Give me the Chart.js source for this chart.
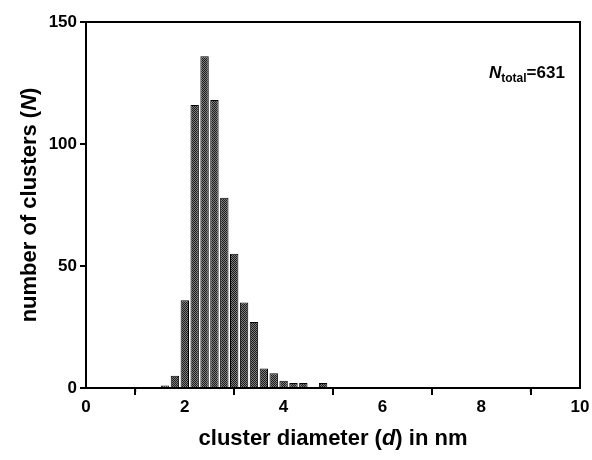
<!DOCTYPE html>
<html>
<head>
<meta charset="utf-8">
<script src="https://cdn.jsdelivr.net/npm/chart.js@4/dist/chart.umd.min.js"></script>
<style>
  html, body { margin: 0; padding: 0; background: #fff; }
  canvas { display: block; }
</style>
</head>
<body>
<canvas id="hist" width="592" height="460"></canvas>
<script>
// bin centres (nm) and counts
const binCenters = [1.6, 1.8, 2.0, 2.2, 2.4, 2.6, 2.8, 3.0, 3.2, 3.4, 3.6, 3.8, 4.0, 4.2, 4.4, 4.6, 4.8];
const counts     = [1,   5,   36,  116, 136, 118, 78,  55,  35,  27,  8,   6,   3,   2,   2,   0,   2];

const xTicks = [0, 2, 4, 6, 8, 10];
const xMinorTicks = [1, 3, 5, 7, 9];
const yTicks = [0, 50, 100, 150];

const FONT = "'Liberation Sans', Arial, sans-serif";

// speckled grey fill like the scanned bars
function makePattern() {
    const c = document.createElement("canvas");
    c.width = 2; c.height = 2;
    const g = c.getContext("2d");
    g.fillStyle = "#7e7e7e"; g.fillRect(0, 0, 2, 2);
    g.fillStyle = "#1c1c1c"; g.fillRect(0, 0, 1, 1); g.fillRect(1, 1, 1, 1);
    return g.createPattern(c, "repeat");
}

// draws text made of pieces with different fonts (italic letters, subscripts)
function drawPieces(ctx, pieces, x, y, align) {
    let total = 0;
    pieces.forEach(p => { ctx.font = p.font; p.w = ctx.measureText(p.text).width; total += p.w; });
    let cx = align == "center" ? x - total / 2 : x;
    ctx.textBaseline = "alphabetic";
    ctx.textAlign = "left";
    pieces.forEach(p => {
        ctx.font = p.font;
        ctx.fillText(p.text, cx, y + (p.dy || 0));
        cx += p.w;
    });
}

const framePlugin = {
    id: "frame",
    afterDraw(chart) {
        const ctx = chart.ctx;
        const a = chart.chartArea;
        const xs = chart.scales.x;
        ctx.save();
        ctx.strokeStyle = "#000";
        ctx.fillStyle = "#000";
        ctx.lineWidth = 2;
        ctx.strokeRect(a.left, a.top, a.right - a.left, a.bottom - a.top);

        // minor ticks on x
        ctx.lineWidth = 1.5;
        xMinorTicks.forEach(v => {
            const px = xs.getPixelForValue(v);
            ctx.beginPath();
            ctx.moveTo(px, a.bottom);
            ctx.lineTo(px, a.bottom + 4);
            ctx.stroke();
        });

        // x axis title
        const b = "bold 22px " + FONT;
        const bi = "italic bold 22px " + FONT;
        drawPieces(ctx, [
            { text: "cluster diameter (", font: b },
            { text: "d", font: bi },
            { text: ") in nm", font: b }
        ], (a.left + a.right) / 2, 445, "center");

        // y axis title
        ctx.save();
        ctx.translate(36, (a.top + a.bottom) / 2);
        ctx.rotate(-Math.PI / 2);
        drawPieces(ctx, [
            { text: "number of clusters (", font: b },
            { text: "N", font: bi },
            { text: ")", font: b }
        ], 0, 0, "center");
        ctx.restore();

        // N_total annotation
        drawPieces(ctx, [
            { text: "N", font: "italic bold 17px " + FONT },
            { text: "total", font: "bold 12px " + FONT, dy: 4 },
            { text: "=631", font: "bold 17px " + FONT }
        ], 489, 78, "left");
        ctx.restore();
    }
};

const tickFont = { family: FONT, size: 17, weight: "bold" };

new Chart(document.getElementById("hist").getContext("2d"), {
    type: "bar",
    data: {
        datasets: [{
            data: binCenters.map((x, i) => ({ x: x, y: counts[i] })),
            backgroundColor: makePattern(),
            borderColor: "#000",
            borderWidth: 1,
            barPercentage: 0.85,
            categoryPercentage: 1
        }]
    },
    options: {
        responsive: false,
        animation: false,
        devicePixelRatio: 1,
        layout: { padding: { top: 22, right: 12, left: 0, bottom: 0 } },
        plugins: { legend: { display: false }, tooltip: { enabled: false } },
        scales: {
            x: {
                type: "linear",
                min: 0, max: 10,
                offset: false,
                afterFit(s) { s.height = 72; },
                afterBuildTicks(s) { s.ticks = xTicks.map(v => ({ value: v })); },
                ticks: { font: tickFont, color: "#000", padding: 2, maxRotation: 0 },
                grid: { drawOnChartArea: false, drawTicks: true, tickLength: 7, color: "#000", lineWidth: 2 },
                border: { display: true, color: "#000", width: 2 }
            },
            y: {
                min: 0, max: 150,
                afterFit(s) { s.width = 86; },
                afterBuildTicks(s) { s.ticks = yTicks.map(v => ({ value: v })); },
                ticks: { font: tickFont, color: "#000", padding: 3 },
                grid: { drawOnChartArea: false, drawTicks: true, tickLength: 6, color: "#000", lineWidth: 2 },
                border: { display: true, color: "#000", width: 2 }
            }
        }
    },
    plugins: [framePlugin]
});
</script>
</body>
</html>
